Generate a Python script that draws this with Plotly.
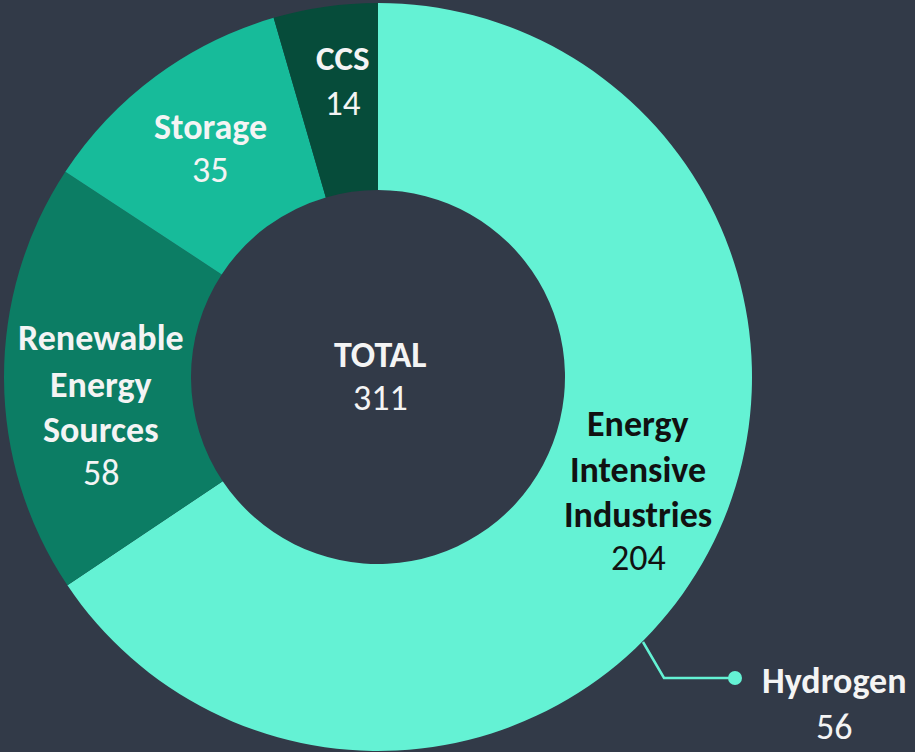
import plotly.graph_objects as go

categories = ["Energy Intensive Industries", "Renewable Energy Sources", "Storage", "CCS"]
values = [204, 58, 35, 14]
colors = ["#64F2D4", "#0C7D64", "#17BB9A", "#064C3A"]
total_label = "TOTAL"
total_value = sum(values)
callout_label = "Hydrogen"
callout_value = 56

W, H = 915, 752
BG = "#323A48"
FONT = "Carlito, Calibri, Lato, sans-serif"

cx, cy, R = 378, 377, 374

fig = go.Figure()
fig.add_trace(go.Pie(
    labels=categories, values=values, sort=False, direction="clockwise", rotation=0,
    hole=0.5, marker=dict(colors=colors, line=dict(width=0)),
    textinfo="none", hoverinfo="label+value", showlegend=False,
    domain=dict(x=[(cx - R) / W, (cx + R) / W], y=[1 - (cy + R) / H, 1 - (cy - R) / H]),
))

def px(x, y):
    return x / W, 1 - y / H

annots = []
def add_lines(x, ys, lines, color, bolds, size=36):
    for yy, txt, b in zip(ys, lines, bolds):
        ax, ay = px(x, yy)
        annots.append(dict(x=ax, y=ay, xref="paper", yref="paper", showarrow=False,
                           text=f"<b>{txt}</b>" if b else txt,
                           font=dict(family=FONT, size=size, color=color),
                           xanchor="center", yanchor="middle"))

WHITE = "#F4F4F4"
add_lines(343, [58, 103], ["CCS", str(values[3])], WHITE, [True, False], 35)
add_lines(210, [127, 170], ["Storage", str(values[2])], WHITE, [True, False])
add_lines(101, [338, 385, 430, 473], ["Renewable", "Energy", "Sources", str(values[1])], WHITE, [True, True, True, False])
add_lines(380, [355, 398], [total_label, str(total_value)], WHITE, [True, False])
add_lines(638, [424, 470, 515, 558], ["Energy", "Intensive", "Industries", str(values[0])], "#111111", [True, True, True, False])
add_lines(834, [681, 727], [callout_label, str(callout_value)], WHITE, [True, False])

fig.update_layout(
    width=W, height=H, margin=dict(l=0, r=0, t=0, b=0),
    paper_bgcolor=BG, plot_bgcolor=BG, annotations=annots,
    shapes=[
        dict(type="path", xref="paper", yref="paper",
             path=f"M {px(643,642)[0]},{px(643,642)[1]} L {px(664,678)[0]},{px(664,678)[1]} L {px(733,678)[0]},{px(733,678)[1]}",
             line=dict(color="#64F2D4", width=2.5)),
        dict(type="circle", xref="paper", yref="paper",
             x0=px(728, 671)[0], x1=px(742, 685)[0], y0=px(728, 685)[1], y1=px(742, 671)[1],
             fillcolor="#64F2D4", line=dict(width=0)),
    ],
)

fig.write_html("out.html", config={"displayModeBar": False},
               post_script="document.body.style.margin='0';document.body.style.background='#323A48';")
